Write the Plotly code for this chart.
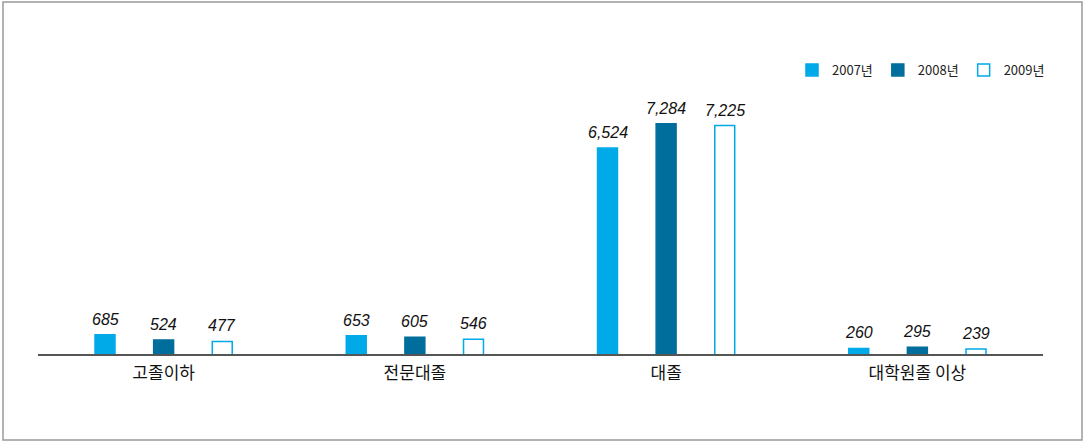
import plotly.graph_objects as go

categories = ["고졸이하", "전문대졸", "대졸", "대학원졸 이상"]
series_names = ["2007년", "2008년", "2009년"]
v2007 = [685, 653, 6524, 260]
v2008 = [524, 605, 7284, 295]
v2009 = [477, 546, 7225, 239]

W, H = 1085, 445
L, R, T, B = 38, 42, 30, 91
pw, ph = W - L - R, H - T - B

fill_colors = ["#00A9E8", "#006E9C", "#FFFFFF"]
line_colors = ["#00A9E8", "#006E9C", "#00A9E8"]
label_shift = [-58.5, 0, 58.5]

y0 = 85
scale = 0.0320  # px per unit

fig = go.Figure()
for name, vals, fc, lc, dx in zip(series_names, [v2007, v2008, v2009], fill_colors, line_colors, label_shift):
    fig.add_trace(go.Bar(
        x=categories, y=vals, name=name,
        marker=dict(color=fc, line=dict(color=lc, width=1.5)),
        cliponaxis=True, hoverinfo="skip",
    ))
    for c, v in zip(categories, vals):
        fig.add_annotation(x=c, y=v, text=f"{v:,}", showarrow=False,
                           xanchor="center", yanchor="bottom", xshift=dx, yshift=5,
                           font=dict(family="Liberation Sans, Arial", size=16, color="#111111", style="italic"))

def px_x(x):
    return (x - L) / pw

def px_y(y):
    return (H - B - y) / ph

fig.add_shape(type="rect", xref="paper", yref="paper",
              x0=px_x(3), x1=px_x(1082), y0=px_y(440), y1=px_y(2),
              line=dict(color="#9A9A9A", width=1.5), fillcolor="rgba(0,0,0,0)", layer="below")

fig.update_layout(
    width=W, height=H,
    margin=dict(l=L, r=R, t=T, b=B),
    paper_bgcolor="white", plot_bgcolor="white",
    barmode="group", bargap=0.3, bargroupgap=0.66,
    showlegend=True,
    legend=dict(orientation="h", x=px_x(1050), xanchor="right", y=px_y(70), yanchor="middle",
                font=dict(family="Noto Sans CJK KR, Liberation Sans", size=13, color="#222222"),
                itemwidth=30, traceorder="normal", bgcolor="rgba(0,0,0,0)"),
    xaxis=dict(showline=True, linecolor="#555555", linewidth=1.5, showgrid=False,
               ticks="", ticklabelstandoff=3,
               tickfont=dict(family="Noto Sans CJK KR", size=17, color="#111111")),
    yaxis=dict(visible=False, range=[y0, y0 + ph / scale], showgrid=False, zeroline=False),
    font=dict(family="Noto Sans CJK KR"),
)

fig.write_html("out.html", config={"displayModeBar": False},
               post_script="document.body.style.margin='0';document.body.style.overflow='hidden';")
